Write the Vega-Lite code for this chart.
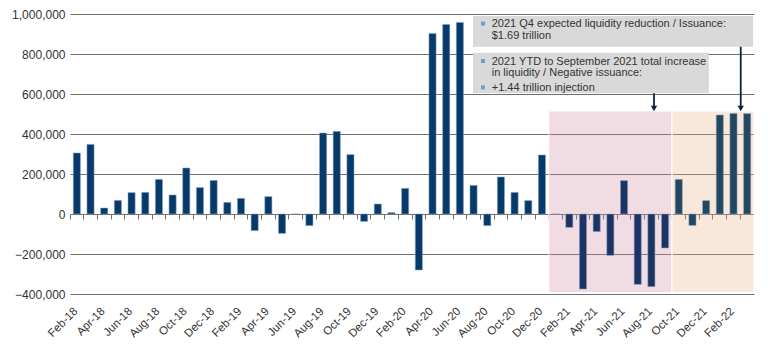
{
  "$schema": "https://vega.github.io/schema/vega-lite/v6.json",
  "width": 684,
  "height": 280,
  "autosize": {"type": "none"},
  "padding": {"left": 70, "top": 14, "right": 16, "bottom": 61},
  "background": "white",
  "config": {"view": {"stroke": null}, "font": "Liberation Sans"},
  "datasets": {
    "bars": [
      {"month": "Feb-18", "value": 305000, "period": "2018-2020"},
      {"month": "Mar-18", "value": 348000, "period": "2018-2020"},
      {"month": "Apr-18", "value": 30000, "period": "2018-2020"},
      {"month": "May-18", "value": 68000, "period": "2018-2020"},
      {"month": "Jun-18", "value": 107000, "period": "2018-2020"},
      {"month": "Jul-18", "value": 108000, "period": "2018-2020"},
      {"month": "Aug-18", "value": 173000, "period": "2018-2020"},
      {"month": "Sep-18", "value": 95000, "period": "2018-2020"},
      {"month": "Oct-18", "value": 230000, "period": "2018-2020"},
      {"month": "Nov-18", "value": 132000, "period": "2018-2020"},
      {"month": "Dec-18", "value": 168000, "period": "2018-2020"},
      {"month": "Jan-19", "value": 58000, "period": "2018-2020"},
      {"month": "Feb-19", "value": 78000, "period": "2018-2020"},
      {"month": "Mar-19", "value": -83000, "period": "2018-2020"},
      {"month": "Apr-19", "value": 87000, "period": "2018-2020"},
      {"month": "May-19", "value": -97000, "period": "2018-2020"},
      {"month": "Jun-19", "value": 0, "period": "2018-2020"},
      {"month": "Jul-19", "value": -58000, "period": "2018-2020"},
      {"month": "Aug-19", "value": 405000, "period": "2018-2020"},
      {"month": "Sep-19", "value": 413000, "period": "2018-2020"},
      {"month": "Oct-19", "value": 297000, "period": "2018-2020"},
      {"month": "Nov-19", "value": -37000, "period": "2018-2020"},
      {"month": "Dec-19", "value": 50000, "period": "2018-2020"},
      {"month": "Jan-20", "value": 7000, "period": "2018-2020"},
      {"month": "Feb-20", "value": 128000, "period": "2018-2020"},
      {"month": "Mar-20", "value": -280000, "period": "2018-2020"},
      {"month": "Apr-20", "value": 902000, "period": "2018-2020"},
      {"month": "May-20", "value": 948000, "period": "2018-2020"},
      {"month": "Jun-20", "value": 958000, "period": "2018-2020"},
      {"month": "Jul-20", "value": 143000, "period": "2018-2020"},
      {"month": "Aug-20", "value": -58000, "period": "2018-2020"},
      {"month": "Sep-20", "value": 185000, "period": "2018-2020"},
      {"month": "Oct-20", "value": 108000, "period": "2018-2020"},
      {"month": "Nov-20", "value": 67000, "period": "2018-2020"},
      {"month": "Dec-20", "value": 295000, "period": "2018-2020"},
      {"month": "Jan-21", "value": 0, "period": "2021 YTD"},
      {"month": "Feb-21", "value": -67000, "period": "2021 YTD"},
      {"month": "Mar-21", "value": -375000, "period": "2021 YTD"},
      {"month": "Apr-21", "value": -88000, "period": "2021 YTD"},
      {"month": "May-21", "value": -207000, "period": "2021 YTD"},
      {"month": "Jun-21", "value": 167000, "period": "2021 YTD"},
      {"month": "Jul-21", "value": -352000, "period": "2021 YTD"},
      {"month": "Aug-21", "value": -363000, "period": "2021 YTD"},
      {"month": "Sep-21", "value": -170000, "period": "2021 YTD"},
      {"month": "Oct-21", "value": 173000, "period": "2021 Q4 expected"},
      {"month": "Nov-21", "value": -57000, "period": "2021 Q4 expected"},
      {"month": "Dec-21", "value": 67000, "period": "2021 Q4 expected"},
      {"month": "Jan-22", "value": 495000, "period": "2021 Q4 expected"},
      {"month": "Feb-22", "value": 503000, "period": "2021 Q4 expected"},
      {"month": "Mar-22", "value": 502000, "period": "2021 Q4 expected"}
    ],
    "regions": [
      {"from": "Jan-21", "to": "Sep-21", "top": 515000, "bottom": -393000, "period": "2021 YTD"},
      {"from": "Oct-21", "to": "Mar-22", "top": 515000, "bottom": -393000, "period": "2021 Q4 expected"}
    ],
    "texts": [
      {"month": "Aug-20", "v": 948500, "line": "2021 Q4 expected liquidity reduction / Issuance:"},
      {"month": "Aug-20", "v": 890000, "line": "$1.69 trillion"},
      {"month": "Aug-20", "v": 761700, "line": "2021 YTD to September 2021 total increase"},
      {"month": "Aug-20", "v": 706700, "line": "in liquidity / Negative issuance:"},
      {"month": "Aug-20", "v": 630000, "line": "+1.44 trillion injection"}
    ],
    "bullets": [
      {"month": "Aug-20", "v": 952000},
      {"month": "Aug-20", "v": 765000},
      {"month": "Aug-20", "v": 633000}
    ]
  },
  "resolve": {"axis": {"x": "independent"}, "scale": {"color": "independent"}},
  "layer": [
    {
      "data": {"name": "regions"},
      "mark": {"type": "rect", "fillOpacity": 0.3, "stroke": "white", "strokeWidth": 1, "strokeOpacity": 1},
      "encoding": {
        "x": {"field": "from", "type": "nominal", "bandPosition": 0,
              "scale": {"type": "band", "paddingInner": 0, "paddingOuter": 0,
                "domain": ["Feb-18","Mar-18","Apr-18","May-18","Jun-18","Jul-18","Aug-18","Sep-18","Oct-18","Nov-18","Dec-18","Jan-19","Feb-19","Mar-19","Apr-19","May-19","Jun-19","Jul-19","Aug-19","Sep-19","Oct-19","Nov-19","Dec-19","Jan-20","Feb-20","Mar-20","Apr-20","May-20","Jun-20","Jul-20","Aug-20","Sep-20","Oct-20","Nov-20","Dec-20","Jan-21","Feb-21","Mar-21","Apr-21","May-21","Jun-21","Jul-21","Aug-21","Sep-21","Oct-21","Nov-21","Dec-21","Jan-22","Feb-22","Mar-22"]},
              "axis": {"orient": "bottom", "bandPosition": 0, "offset": -80, "ticks": true, "tickSize": 5, "tickColor": "#6f6f6f", "tickWidth": 1, "labels": false, "domain": false, "grid": false, "title": null, "zindex": 0}},
        "x2": {"field": "to", "bandPosition": 1},
        "y": {"field": "top", "type": "quantitative", "title": null,
              "scale": {"domain": [-400000, 1000000], "nice": false},
              "axis": {"values": [-400000, -200000, 0, 200000, 400000, 600000, 800000, 1000000], "tickCount": 8, "format": ",d",
                       "grid": true, "gridColor": "#6f6f6f", "gridWidth": 1, "gridOpacity": 1, "domain": false, "ticks": false,
                       "labelFontSize": 12, "labelColor": "#333333", "labelFont": "Liberation Sans", "labelPadding": 5,
                       "title": null, "zindex": 0}},
        "y2": {"field": "bottom"},
        "color": {"field": "period", "type": "nominal", "legend": null,
                  "scale": {"domain": ["2021 YTD", "2021 Q4 expected"], "range": ["#d08aa2", "#e8b28a"]}}
      }
    },
    {
      "data": {"name": "bars"},
      "mark": {"type": "bar", "width": {"band": 0.52}, "stroke": "#8aa0bd", "strokeWidth": 0.8, "strokeOpacity": 0.7},
      "encoding": {
        "x": {"field": "month", "type": "nominal",
              "scale": {"type": "band", "paddingInner": 0, "paddingOuter": 0,
                "domain": ["Feb-18","Mar-18","Apr-18","May-18","Jun-18","Jul-18","Aug-18","Sep-18","Oct-18","Nov-18","Dec-18","Jan-19","Feb-19","Mar-19","Apr-19","May-19","Jun-19","Jul-19","Aug-19","Sep-19","Oct-19","Nov-19","Dec-19","Jan-20","Feb-20","Mar-20","Apr-20","May-20","Jun-20","Jul-20","Aug-20","Sep-20","Oct-20","Nov-20","Dec-20","Jan-21","Feb-21","Mar-21","Apr-21","May-21","Jun-21","Jul-21","Aug-21","Sep-21","Oct-21","Nov-21","Dec-21","Jan-22","Feb-22","Mar-22"]},
              "axis": {"orient": "bottom", "values": ["Feb-18","Apr-18","Jun-18","Aug-18","Oct-18","Dec-18","Feb-19","Apr-19","Jun-19","Aug-19","Oct-19","Dec-19","Feb-20","Apr-20","Jun-20","Aug-20","Oct-20","Dec-20","Feb-21","Apr-21","Jun-21","Aug-21","Oct-21","Dec-21","Feb-22"],
                       "labelAngle": -45, "labelFontSize": 11.5, "labelColor": "#333333", "labelFont": "Liberation Sans",
                       "labelPadding": 11, "labelOffset": -5, "ticks": false, "domain": false, "grid": false, "title": null}},
        "y": {"field": "value", "type": "quantitative", "title": null,
              "scale": {"domain": [-400000, 1000000], "nice": false},
              "axis": {"values": [-400000, -200000, 0, 200000, 400000, 600000, 800000, 1000000], "tickCount": 8, "format": ",d",
                       "grid": true, "gridColor": "#6f6f6f", "gridWidth": 1, "gridOpacity": 1, "domain": false, "ticks": false,
                       "labelFontSize": 12, "labelColor": "#333333", "labelFont": "Liberation Sans", "labelPadding": 5,
                       "title": null, "zindex": 0}},
        "color": {"field": "period", "type": "nominal", "legend": null,
                  "scale": {"domain": ["2018-2020", "2021 YTD", "2021 Q4 expected"], "range": ["#063a6a", "#1c3464", "#22475f"]}}
      }
    },
    {
      "data": {"values": [{"from": "Jul-20", "to": "Mar-22", "top": 990000, "bottom": 836500}]},
      "mark": {"type": "rect", "color": "#d9d9d9"},
      "encoding": {
        "x": {"field": "from", "type": "nominal", "bandPosition": 0.46, "axis": null},
        "x2": {"field": "to", "bandPosition": 0.93},
        "y": {"field": "top", "type": "quantitative", "title": null},
        "y2": {"field": "bottom"}
      }
    },
    {
      "data": {"values": [{"from": "Jul-20", "to": "Dec-21", "top": 806500, "bottom": 603500}]},
      "mark": {"type": "rect", "color": "#d9d9d9"},
      "encoding": {
        "x": {"field": "from", "type": "nominal", "bandPosition": 0.46, "axis": null},
        "x2": {"field": "to", "bandPosition": 0.7},
        "y": {"field": "top", "type": "quantitative", "title": null},
        "y2": {"field": "bottom"}
      }
    },
    {
      "data": {"name": "bullets"},
      "mark": {"type": "square", "size": 16, "color": "#6a9fd0", "opacity": 1},
      "encoding": {
        "x": {"field": "month", "type": "nominal", "bandPosition": 0.19, "axis": null},
        "y": {"field": "v", "type": "quantitative", "title": null}
      }
    },
    {
      "data": {"name": "texts"},
      "mark": {"type": "text", "align": "left", "baseline": "middle", "fontSize": 11, "color": "#333333", "font": "Liberation Sans"},
      "encoding": {
        "x": {"field": "month", "type": "nominal", "bandPosition": 0.83, "axis": null},
        "y": {"field": "v", "type": "quantitative", "title": null},
        "text": {"field": "line"}
      }
    },
    {
      "data": {"values": [{"month": "Aug-21", "start": 603500, "end": 528000}]},
      "mark": {"type": "rule", "color": "#0f1f3d", "strokeWidth": 1.8},
      "encoding": {
        "x": {"field": "month", "type": "nominal", "bandPosition": 0.69, "axis": null},
        "y": {"field": "start", "type": "quantitative", "title": null},
        "y2": {"field": "end"}
      }
    },
    {
      "data": {"values": [{"month": "Aug-21", "tip": 528000}]},
      "mark": {"type": "point", "shape": "triangle-down", "filled": true, "size": 40, "color": "#0f1f3d", "opacity": 1},
      "encoding": {
        "x": {"field": "month", "type": "nominal", "bandPosition": 0.69, "axis": null},
        "y": {"field": "tip", "type": "quantitative", "title": null}
      }
    },
    {
      "data": {"values": [{"month": "Mar-22", "start": 836500, "end": 528000}]},
      "mark": {"type": "rule", "color": "#0f1f3d", "strokeWidth": 1.8},
      "encoding": {
        "x": {"field": "month", "type": "nominal", "bandPosition": 0.03, "axis": null},
        "y": {"field": "start", "type": "quantitative", "title": null},
        "y2": {"field": "end"}
      }
    },
    {
      "data": {"values": [{"month": "Mar-22", "tip": 528000}]},
      "mark": {"type": "point", "shape": "triangle-down", "filled": true, "size": 40, "color": "#0f1f3d", "opacity": 1},
      "encoding": {
        "x": {"field": "month", "type": "nominal", "bandPosition": 0.03, "axis": null},
        "y": {"field": "tip", "type": "quantitative", "title": null}
      }
    }
  ]
}
